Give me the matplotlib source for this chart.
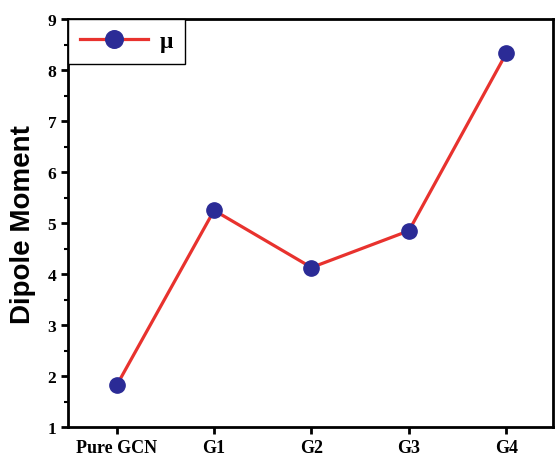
import matplotlib.pyplot as plt
from matplotlib.ticker import MultipleLocator

samples = ['Pure GCN', 'G1', 'G2', 'G3', 'G4']
dipole = [1.82, 5.25, 4.13, 4.85, 8.33]

fig = plt.figure(figsize=(5.55, 4.56), dpi=100)
ax = fig.add_axes([0.1225, 0.061, 0.874, 0.895])

x = list(range(len(samples)))
ax.plot(x, dipole, color='#e8322e', linewidth=2.3, marker='o', markersize=11,
        markerfacecolor='#2b2b96', markeredgecolor='#2b2b96', label='μ')

ax.set_xlim(-0.5, 4.48)
ax.set_ylim(1, 9)
ax.set_xticks(x)
ax.set_xticklabels(samples, fontfamily='Liberation Serif', fontweight='bold', fontsize=13)
ax.yaxis.set_major_locator(MultipleLocator(1))
ax.yaxis.set_minor_locator(MultipleLocator(0.5))
for lab in ax.get_yticklabels():
    lab.set_fontfamily('Liberation Serif')
    lab.set_fontweight('bold')
    lab.set_fontsize(12.5)

ax.tick_params(axis='both', which='major', direction='out', length=5, width=2)
ax.tick_params(axis='y', which='minor', direction='out', length=3, width=1.5)
ax.tick_params(top=False, right=False)
for s in ax.spines.values():
    s.set_linewidth(2)

ax.set_ylabel('Dipole Moment', fontfamily='Liberation Sans', fontweight='bold', fontsize=20,
              labelpad=8)

leg = ax.legend(loc='upper left', prop={'family': 'Liberation Serif', 'weight': 'bold', 'size': 17},
                fancybox=False, edgecolor='black', framealpha=1, borderaxespad=0,
                handlelength=2.9, borderpad=0.5, handletextpad=0.5, markerscale=1.15)
leg.get_frame().set_linewidth(1)

fig.savefig('out.png', dpi=100)
